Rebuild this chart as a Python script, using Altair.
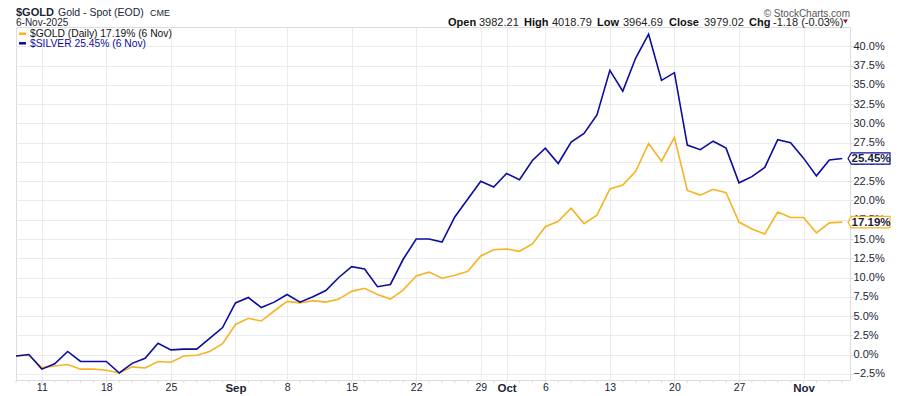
import altair as alt
import pandas as pd

# ---- data -------------------------------------------------------------
days = (["08-07", "08-08"] +
        ["08-%02d" % d for d in range(11, 16)] +
        ["08-%02d" % d for d in range(18, 23)] +
        ["08-%02d" % d for d in range(25, 30)] +
        ["09-%02d" % d for d in range(2, 6)] +
        ["09-%02d" % d for d in range(8, 13)] +
        ["09-%02d" % d for d in range(15, 20)] +
        ["09-%02d" % d for d in range(22, 27)] +
        ["09-29", "09-30", "10-01", "10-02", "10-03"] +
        ["10-%02d" % d for d in range(6, 11)] +
        ["10-%02d" % d for d in range(13, 18)] +
        ["10-%02d" % d for d in range(20, 25)] +
        ["10-%02d" % d for d in range(27, 32)] +
        ["11-%02d" % d for d in range(3, 7)])

gold = [-0.2, -0.1, -1.7, -1.5, -1.3, -1.9, -1.9, -2.05, -2.4, -1.6, -1.75, -0.9,
        -1.0, -0.2, -0.1, 0.4, 1.4, 3.9, 4.7, 4.35, 5.65, 6.9, 6.7,
        7.0, 6.8, 7.2, 8.2, 8.6, 7.8, 7.2, 8.4, 10.2, 10.7, 9.9, 10.3, 10.8, 12.8,
        13.6, 13.7, 13.4, 14.35, 16.6, 17.3, 19.0, 17.0,
        18.1, 21.5, 22.0, 23.8, 27.4, 25.1, 28.2, 21.3, 20.7, 21.45, 21.0, 17.2,
        16.3, 15.65, 18.5, 17.8, 17.8, 15.8, 17.1, 17.19]

silver = [-0.2, 0.0, -1.9, -1.2, 0.4, -0.9, -0.9, -0.9, -2.4, -1.15, -0.5, 1.45,
          0.6, 0.7, 0.7, 2.1, 3.5, 6.7, 7.4, 6.1, 6.8, 7.8, 6.8,
          7.5, 8.3, 10.0, 11.4, 11.1, 8.8, 9.1, 12.4, 15.0, 15.0, 14.6, 17.9, 20.2,
          22.5, 21.75, 23.5, 22.7, 25.2, 26.8, 24.8, 27.6, 28.7,
          31.1, 36.9, 34.2, 38.5, 41.6, 35.6, 36.6, 27.2, 26.6, 27.7, 26.8, 22.3,
          23.1, 24.3, 27.9, 27.5, 25.5, 23.2, 25.25, 25.45]

tick_idx = [2, 7, 12, 17, 21, 26, 31, 36, 38, 41, 46, 51, 56, 61]
tick_lbl = ["11", "18", "25", "Sep", "8", "15", "22", "29", "Oct", "6", "13", "20", "27", "Nov"]
month_idx = [17, 38, 61]
y_ticks = [-2.5, 0, 2.5, 5, 7.5, 10, 12.5, 15, 17.5, 20, 22.5, 25, 27.5, 30,
           32.5, 35, 37.5, 40]

series_names = ["$GOLD", "$SILVER"]
last_vals = [17.19, 25.45]
last_lbls = ["17.19%", "25.45%"]

GOLD_C = "#f6b324"
SILV_C = "#0c0ca0"
NAVY = "#1b2538"

n = len(days)
df = pd.DataFrame({
    "i": list(range(n)) * 2,
    "day": days * 2,
    "pct": gold + silver,
    "s": [series_names[0]] * n + [series_names[1]] * n,
})
tags = pd.DataFrame({"s": series_names, "pct": last_vals, "lbl": last_lbls})

xscale = alt.Scale(domain=[0, 64.6], nice=False, zero=False)
yscale = alt.Scale(domain=[-3.31, 42.53], nice=False, zero=False)
cscale = alt.Scale(domain=series_names, range=[GOLD_C, SILV_C])

labelexpr = "[" + ",".join("'%s'" % t for t in tick_lbl) + "][indexof([" + \
    ",".join(str(t) for t in tick_idx) + "], datum.value)]"
month_test = "indexof([" + ",".join(str(m) for m in month_idx) + "], datum.value) >= 0"

xaxis = alt.Axis(
    values=tick_idx, labelExpr=labelexpr, title=None, grid=True,
    gridColor="#ebebeb", domain=False, ticks=False, labelOverlap=False,
    labelPadding=2, labelFont="Liberation Sans", labelColor=NAVY,
    labelFontWeight={"condition": {"test": month_test, "value": "bold"}, "value": "normal"},
    labelFontSize={"condition": {"test": month_test, "value": 11.5}, "value": 10.5},
)
yaxis = alt.Axis(
    orient="right", values=y_ticks, labelExpr="format(datum.value, '.1f') + '%'",
    title=None, grid=True, gridColor="#ebebeb", domain=False, ticks=True,
    tickSize=3, tickColor="#dcdcdc", labelPadding=0, labelFont="Liberation Sans",
    labelFontSize=11, labelColor=NAVY, labelOverlap=False, labelBound=False,
    labelSeparation=0,
)

base = alt.Chart(df)

lines = base.mark_line(strokeWidth=1.6, clip=True).encode(
    x=alt.X("i:Q", scale=xscale, axis=xaxis),
    y=alt.Y("pct:Q", scale=yscale, axis=yaxis),
    color=alt.Color("s:N", scale=cscale, legend=None),
    order="i:Q",
)

minor = alt.Chart(pd.DataFrame({"i": list(range(n))})).mark_rule(
    color="#dedede", strokeWidth=1).encode(
    x=alt.X("i:Q", scale=xscale, axis=xaxis), y=alt.value(353), y2=alt.value(356))

tag_path = "M -1 0 L -0.84 -0.27 L 1 -0.27 L 1 0.27 L -0.84 0.27 Z"
tag_box = alt.Chart(tags).mark_point(
    shape=tag_path, size=1764, filled=False, fill="white", fillOpacity=1,
    strokeWidth=1.2, opacity=1).encode(
    x=alt.value(853), y=alt.Y("pct:Q", scale=yscale, axis=yaxis),
    stroke=alt.Color("s:N", scale=cscale, legend=None))
tag_txt = alt.Chart(tags).mark_text(
    font="Liberation Sans", fontWeight="bold", fontSize=11.5, color=NAVY,
    align="center", baseline="middle", dy=0.5).encode(
    x=alt.value(855), y=alt.Y("pct:Q", scale=yscale, axis=yaxis), text="lbl:N")


def txt(t, x, y, size=11, weight="normal", color=NAVY, align="left"):
    return alt.Chart(pd.DataFrame({"t": [t]})).mark_text(
        font="Liberation Sans", fontSize=size, fontWeight=weight, color=color,
        align=align, baseline="alphabetic").encode(
        text="t:N", x=alt.value(x), y=alt.value(y))


def dash(x1, x2, y, color):
    return alt.Chart(pd.DataFrame({"a": [0]})).mark_rule(
        color=color, strokeWidth=2.5).encode(
        x=alt.value(x1), x2=alt.value(x2), y=alt.value(y))


header = [
    txt("$GOLD", 0, -10.6, size=11, weight="bold"),
    txt("Gold - Spot (EOD)", 42, -10.6, size=10.5),
    txt("CME", 134, -10.6, size=9),
    txt("6-Nov-2025", 0, -1.4, size=10),
    dash(3, 10, 6.7, GOLD_C),
    txt("$GOLD (Daily) 17.19% (6 Nov)", 14, 9.8, size=10.3, color="#111111"),
    dash(3, 10, 16.3, SILV_C),
    txt("$SILVER 25.45% (6 Nov)", 14, 19.6, size=10.3, color=SILV_C),
    txt("\u00a9 StockCharts.com", 834, -10.5, size=10, color="#555555", align="right"),
    txt("Open", 432, -1.3, weight="bold", color="#111111"),
    txt("3982.21", 463, -1.3, color="#222222"),
    txt("High", 508, -1.3, weight="bold", color="#111111"),
    txt("4018.79", 536, -1.3, color="#222222"),
    txt("Low", 581, -1.3, weight="bold", color="#111111"),
    txt("3964.69", 607, -1.3, color="#222222"),
    txt("Close", 653, -1.3, weight="bold", color="#111111"),
    txt("3979.02", 688, -1.3, color="#222222"),
    txt("Chg", 733, -1.3, weight="bold", color="#111111"),
    txt("-1.18 (-0.03%)", 757, -1.3, color="#222222"),
    alt.Chart(pd.DataFrame({"a": [0]})).mark_point(
        shape="triangle-down", filled=True, color="#8e1b3c", size=22, opacity=1).encode(
        x=alt.value(829.5), y=alt.value(-5.5)),
]

chart = alt.layer(minor, lines, tag_box, tag_txt, *header).properties(
    width=834, height=353,
    padding={"left": 8, "top": 19, "right": 42, "bottom": 16},
    autosize=alt.AutoSizeParams(type="none"),
).configure_view(stroke="#d9d9d9").configure_axis(
    labelOverlap=False).configure(background="white")

chart.save("out.html", embed_options={"renderer": "svg", "actions": False})
